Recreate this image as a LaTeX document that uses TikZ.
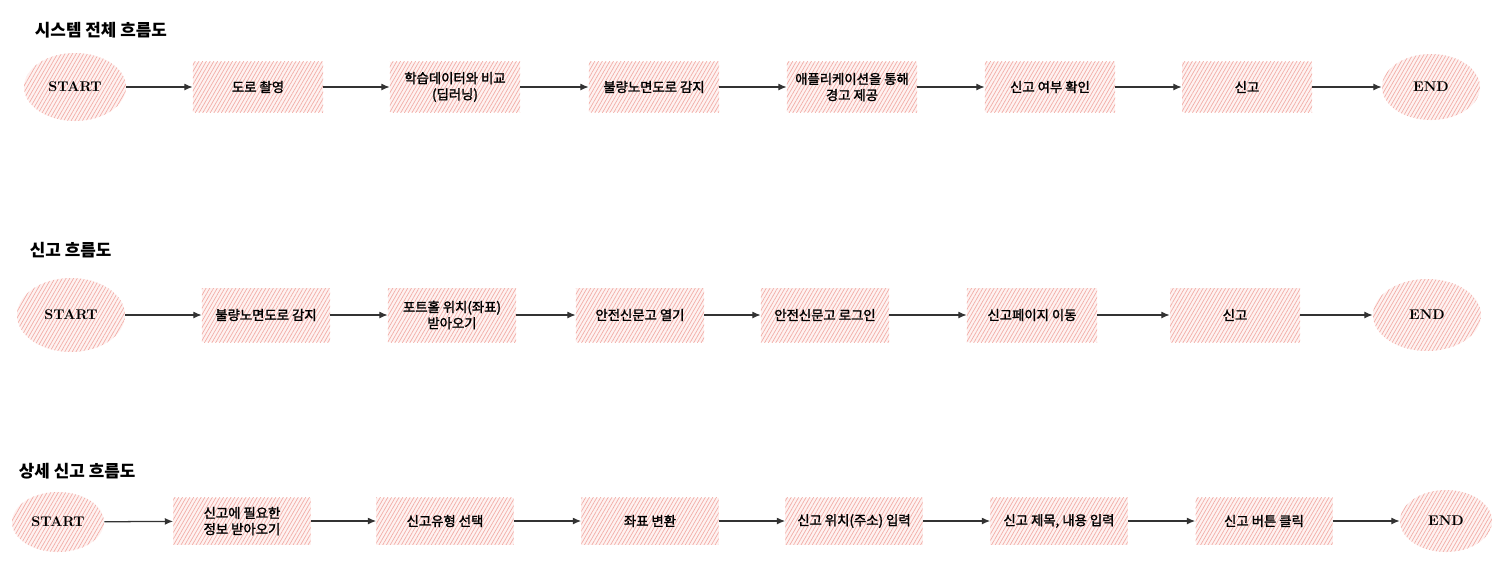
\documentclass[tikz,border=0pt]{standalone}
\usepackage{fontspec}
\usepackage{tikz}
\usetikzlibrary{shapes.geometric,arrows.meta,patterns.meta}
\newfontfamily\kr{Noto Sans CJK KR}
\newfontfamily\krmed{Noto Sans CJK KR}[FakeBold=1.8]
\definecolor{hatchpink}{HTML}{F2ADA7}
\definecolor{hatchbg}{HTML}{FEF2F1}
\definecolor{linegray}{HTML}{333333}
\tikzset{
  hatched/.style={draw=none, preaction={fill=hatchbg},
    pattern={Lines[angle=60,distance=2.3pt,line width=0.5pt]}, pattern color=hatchpink},
  stepbox/.style={hatched, rectangle, inner sep=1pt, align=center,
    font=\krmed\fontsize{9.5}{11.5}\selectfont},
  term/.style={hatched, ellipse, inner sep=0pt, font=\bfseries\fontsize{10}{12}\selectfont},
  flowtitle/.style={anchor=west, font=\kr\bfseries\fontsize{12}{14}\selectfont},
  flow/.style={draw=linegray, line width=0.9pt, -{Latex[length=6pt,width=5pt]}}
}
\begin{document}
\begin{tikzpicture}[x=0.025cm, y=-0.025cm]
        \useasboundingbox (0,0) rectangle (1503,561);
        \node[flowtitle] (t1) at (30,30) {시스템 전체 흐름도};
        \node[term, minimum width=2.55cm, minimum height=1.7cm] (s1) at (75,87) {START};
        \node[stepbox, minimum width=3.25cm, minimum height=1.25cm] (a1) at (258,87) {도로 촬영};
        \node[stepbox, minimum width=3.25cm, minimum height=1.25cm] (a2) at (455,87) {학습데이터와 비교\\(딥러닝)};
        \node[stepbox, minimum width=3.25cm, minimum height=1.25cm] (a3) at (654,87) {불량노면도로 감지};
        \node[stepbox, minimum width=3.25cm, minimum height=1.25cm] (a4) at (852,87) {애플리케이션을 통해\\경고 제공};
        \node[stepbox, minimum width=3.25cm, minimum height=1.25cm] (a5) at (1050,87) {신고 여부 확인};
        \node[stepbox, minimum width=3.25cm, minimum height=1.25cm] (a6) at (1247,87) {신고};
        \node[term, minimum width=2.45cm, minimum height=1.65cm] (e1) at (1431,87) {END};
        \draw[flow] (s1) -- (a1);
        \draw[flow] (a1) -- (a2);
        \draw[flow] (a2) -- (a3);
        \draw[flow] (a3) -- (a4);
        \draw[flow] (a4) -- (a5);
        \draw[flow] (a5) -- (a6);
        \draw[flow] (a6) -- (e1);

        \node[flowtitle] (t2) at (25,250) {신고 흐름도};
        \node[term, minimum width=2.7cm, minimum height=1.85cm] (s2) at (71,315) {START};
        \node[stepbox, minimum width=3.2cm, minimum height=1.35cm] (b1) at (266,315) {불량노면도로 감지};
        \node[stepbox, minimum width=3.2cm, minimum height=1.35cm] (b2) at (452,315) {포트홀 위치(좌표)\\받아오기};
        \node[stepbox, minimum width=3.2cm, minimum height=1.35cm] (b3) at (640,315) {안전신문고 열기};
        \node[stepbox, minimum width=3.2cm, minimum height=1.35cm] (b4) at (825,315) {안전신문고 로그인};
        \node[stepbox, minimum width=3.25cm, minimum height=1.35cm] (b5) at (1032,315) {신고페이지 이동};
        \node[stepbox, minimum width=3.25cm, minimum height=1.35cm] (b6) at (1235,315) {신고};
        \node[term, minimum width=2.7cm, minimum height=1.8cm] (e2) at (1427,315) {END};
        \draw[flow] (s2) -- (b1);
        \draw[flow] (b1) -- (b2);
        \draw[flow] (b2) -- (b3);
        \draw[flow] (b3) -- (b4);
        \draw[flow] (b4) -- (b5);
        \draw[flow] (b5) -- (b6);
        \draw[flow] (b6) -- (e2);

        \node[flowtitle] (t3) at (14,471) {상세 신고 흐름도};
        \node[term, minimum width=2.3cm, minimum height=1.5cm] (s3) at (58,522) {START};
        \node[stepbox, minimum width=3.425cm, minimum height=1.175cm] (c1) at (242,521) {신고에 필요한\\정보 받아오기};
        \node[stepbox, minimum width=3.425cm, minimum height=1.175cm] (c2) at (445,521) {신고유형 선택};
        \node[stepbox, minimum width=3.425cm, minimum height=1.175cm] (c3) at (650,521) {좌표 변환};
        \node[stepbox, minimum width=3.425cm, minimum height=1.175cm] (c4) at (854,521) {신고 위치(주소) 입력};
        \node[stepbox, minimum width=3.425cm, minimum height=1.175cm] (c5) at (1059,521) {신고 제목, 내용 입력};
        \node[stepbox, minimum width=3.425cm, minimum height=1.175cm] (c6) at (1264,521) {신고 버튼 클릭};
        \node[term, minimum width=2.3cm, minimum height=1.55cm] (e3) at (1446,521) {END};
        \draw[flow] (s3) -- (c1);
        \draw[flow] (c1) -- (c2);
        \draw[flow] (c2) -- (c3);
        \draw[flow] (c3) -- (c4);
        \draw[flow] (c4) -- (c5);
        \draw[flow] (c5) -- (c6);
        \draw[flow] (c6) -- (e3);
\end{tikzpicture}
\end{document}
